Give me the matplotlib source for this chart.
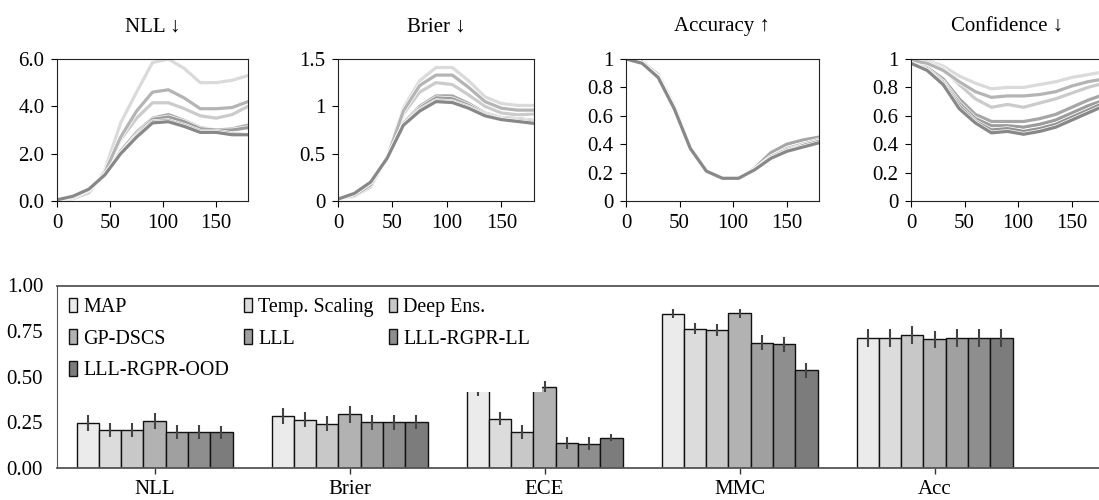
import matplotlib
matplotlib.use('Agg')
import matplotlib.pyplot as plt
import matplotlib.patheffects as pe
import numpy as np

plt.rcParams['font.family'] = ['Liberation Serif', 'DejaVu Serif']

# ---------------- data ----------------
methods = ['MAP', 'Temp. Scaling', 'Deep Ens.', 'GP-DSCS', 'LLL', 'LLL-RGPR-LL', 'LLL-RGPR-OOD']
angles = [0, 15, 30, 45, 60, 75, 90, 105, 120, 135, 150, 165, 180]

nll_curves = [
    [0.05, 0.10, 0.35, 1.30, 3.30, 4.60, 5.85, 6.00, 5.60, 5.00, 5.00, 5.10, 5.30],  # MAP
    [0.05, 0.10, 0.35, 1.20, 2.60, 3.50, 4.15, 4.15, 3.90, 3.60, 3.50, 3.65, 4.00],  # Temp
    [0.05, 0.20, 0.50, 1.10, 2.10, 2.90, 3.50, 3.65, 3.40, 3.10, 3.00, 3.05, 3.20],  # DE
    [0.05, 0.15, 0.45, 1.20, 2.70, 3.80, 4.60, 4.70, 4.35, 3.90, 3.90, 3.95, 4.20],  # GP
    [0.05, 0.20, 0.50, 1.10, 2.00, 2.80, 3.45, 3.55, 3.35, 3.05, 3.00, 3.00, 3.10],  # LLL
    [0.05, 0.20, 0.50, 1.10, 2.00, 2.75, 3.35, 3.40, 3.20, 2.95, 2.95, 2.85, 2.80],  # LL
    [0.05, 0.20, 0.50, 1.10, 2.00, 2.70, 3.30, 3.35, 3.15, 2.90, 2.90, 2.80, 2.80],  # OOD
]
brier_curves = [
    [0.02, 0.05, 0.15, 0.45, 0.98, 1.27, 1.41, 1.41, 1.27, 1.10, 1.03, 1.01, 1.01],
    [0.02, 0.05, 0.15, 0.45, 0.92, 1.15, 1.25, 1.23, 1.12, 1.00, 0.93, 0.91, 0.92],
    [0.02, 0.08, 0.20, 0.45, 0.82, 1.00, 1.11, 1.11, 1.03, 0.93, 0.88, 0.87, 0.85],
    [0.02, 0.06, 0.17, 0.45, 0.95, 1.22, 1.33, 1.33, 1.20, 1.05, 0.98, 0.96, 0.96],
    [0.02, 0.08, 0.20, 0.45, 0.80, 0.98, 1.09, 1.08, 1.01, 0.92, 0.87, 0.86, 0.84],
    [0.02, 0.08, 0.20, 0.45, 0.80, 0.96, 1.06, 1.05, 0.99, 0.91, 0.86, 0.85, 0.83],
    [0.02, 0.08, 0.20, 0.45, 0.80, 0.95, 1.05, 1.04, 0.98, 0.90, 0.86, 0.84, 0.82],
]
acc_curves = [
    [1.00, 0.97, 0.88, 0.67, 0.37, 0.21, 0.16, 0.16, 0.23, 0.33, 0.39, 0.42, 0.44],
    [1.00, 0.97, 0.88, 0.66, 0.37, 0.21, 0.16, 0.16, 0.23, 0.32, 0.38, 0.41, 0.43],
    [1.00, 0.98, 0.89, 0.67, 0.37, 0.21, 0.16, 0.16, 0.23, 0.34, 0.40, 0.43, 0.45],
    [1.00, 0.97, 0.88, 0.66, 0.37, 0.21, 0.16, 0.16, 0.22, 0.31, 0.37, 0.40, 0.43],
    [1.00, 0.97, 0.87, 0.65, 0.37, 0.21, 0.16, 0.16, 0.22, 0.31, 0.36, 0.39, 0.42],
    [1.00, 0.97, 0.87, 0.65, 0.37, 0.21, 0.16, 0.16, 0.22, 0.30, 0.35, 0.39, 0.42],
    [1.00, 0.97, 0.87, 0.65, 0.37, 0.21, 0.16, 0.16, 0.22, 0.30, 0.35, 0.38, 0.41],
]
conf_curves = [
    [1.00, 0.99, 0.95, 0.88, 0.83, 0.79, 0.80, 0.80, 0.82, 0.84, 0.87, 0.89, 0.91],
    [0.99, 0.98, 0.93, 0.82, 0.72, 0.66, 0.68, 0.66, 0.69, 0.72, 0.76, 0.80, 0.83],
    [0.98, 0.94, 0.86, 0.72, 0.61, 0.56, 0.56, 0.56, 0.58, 0.61, 0.66, 0.71, 0.75],
    [0.99, 0.97, 0.92, 0.84, 0.77, 0.73, 0.74, 0.74, 0.75, 0.77, 0.81, 0.84, 0.86],
    [0.97, 0.93, 0.84, 0.69, 0.58, 0.53, 0.53, 0.52, 0.54, 0.57, 0.62, 0.67, 0.71],
    [0.97, 0.92, 0.83, 0.67, 0.56, 0.50, 0.51, 0.49, 0.51, 0.54, 0.59, 0.64, 0.69],
    [0.97, 0.92, 0.82, 0.65, 0.55, 0.48, 0.49, 0.47, 0.49, 0.52, 0.57, 0.62, 0.67],
]

top_titles = ['NLL \u2193', 'Brier \u2193', 'Accuracy \u2191', 'Confidence \u2193']
top_yticks = [[0, 2, 4, 6], [0, 0.5, 1, 1.5], [0, 0.2, 0.4, 0.6, 0.8, 1], [0, 0.2, 0.4, 0.6, 0.8, 1]]
top_yticklabels = [['0.0', '2.0', '4.0', '6.0'], ['0', '0.5', '1', '1.5'],
                   ['0', '0.2', '0.4', '0.6', '0.8', '1'], ['0', '0.2', '0.4', '0.6', '0.8', '1']]
top_xticks = [0, 50, 100, 150]

bar_metrics = ['NLL', 'Brier', 'ECE', 'MMC', 'Acc']
# values per method across metrics
bar_values = [
    [0.248, 0.285, 0.440, 0.846, 0.712],  # MAP
    [0.208, 0.265, 0.270, 0.763, 0.712],  # Temp
    [0.208, 0.243, 0.197, 0.758, 0.731],  # DE
    [0.259, 0.294, 0.444, 0.847, 0.705],  # GP
    [0.195, 0.250, 0.137, 0.687, 0.712],  # LLL
    [0.195, 0.250, 0.133, 0.678, 0.712],  # LL
    [0.195, 0.250, 0.166, 0.535, 0.712],  # OOD
]
bar_errors = [
    [0.045, 0.046, 0.045, 0.025, 0.049],
    [0.040, 0.040, 0.036, 0.030, 0.049],
    [0.040, 0.040, 0.040, 0.032, 0.049],
    [0.045, 0.045, 0.030, 0.023, 0.047],
    [0.038, 0.040, 0.034, 0.040, 0.049],
    [0.038, 0.040, 0.035, 0.040, 0.049],
    [0.035, 0.038, 0.018, 0.041, 0.049],
]
bar_yticks = [0, 0.25, 0.5, 0.75, 1.0]
bar_yticklabels = ['0.00', '0.25', '0.50', '0.75', '1.00']

# ---------------- style ----------------
bar_colors = ['#ebebeb', '#dcdcdc', '#c8c8c8', '#b2b2b2', '#a0a0a0', '#8e8e8e', '#7c7c7c']
line_colors = ['#dadada', '#cbcbcb', '#a6a6a6', '#b4b4b4', '#9c9c9c', '#929292', '#888888']

W, H = 1099, 500
fig = plt.figure(figsize=(W / 100, H / 100), dpi=100)


def px_axes(l, r, t, b):
    return fig.add_axes([l / W, 1 - b / H, (r - l) / W, (b - t) / H])


FS = 15
top_boxes = [(57, 248), (338, 534), (626, 819), (911, 1104)]
all_curves = [nll_curves, brier_curves, acc_curves, conf_curves]
for i, (l, r) in enumerate(top_boxes):
    ax = px_axes(l, r, 59, 201)
    for m in range(len(methods)):
        ax.plot(angles, all_curves[i][m], color=line_colors[m], lw=2.3,
                solid_joinstyle='round',
                path_effects=[pe.Stroke(linewidth=3.3, foreground='white'), pe.Normal()])
    ax.set_xlim(0, 180)
    ax.set_ylim(top_yticks[i][0], top_yticks[i][-1])
    ax.set_xticks(top_xticks)
    ax.set_xticklabels([str(t) for t in top_xticks])
    ax.set_yticks(top_yticks[i])
    ax.set_yticklabels(top_yticklabels[i])
    ax.tick_params(direction='out', length=4, width=0.8, labelsize=FS, pad=5)
    for s in ax.spines.values():
        s.set_linewidth(0.8)
        s.set_color('#222222')
    ax.set_title(top_titles[i], fontsize=FS, pad=20)

# bar chart
BL, BR = 57, 1105
bax = px_axes(BL, BR, 285.5, 468)
n = len(methods)
bw = 0.8 / n
x = np.arange(len(bar_metrics))
containers = []
for m in range(n):
    offs = (m - (n - 1) / 2) * bw
    c = bax.bar(x + offs, bar_values[m], width=bw, color=bar_colors[m], edgecolor='#111111',
                linewidth=1.0, label=methods[m], yerr=bar_errors[m],
                error_kw=dict(ecolor='#444444', elinewidth=1.5, capsize=0))
    containers.append(c)
unit = 195.0
bax.set_xlim(-0.5, (BR - BL) / unit - 0.5)
bax.set_ylim(0, 1)
bax.set_xticks(x)
bax.set_xticklabels(bar_metrics)
bax.set_yticks(bar_yticks)
bax.set_yticklabels(bar_yticklabels)
bax.tick_params(axis='x', direction='out', length=4, width=1.0, labelsize=FS, pad=5, color='#333333')
bax.tick_params(axis='y', direction='out', length=0, labelsize=FS, pad=10)
bax.spines['right'].set_visible(False)
for s in ['top', 'bottom']:
    bax.spines[s].set_color('#555555')
    bax.spines[s].set_linewidth(1.3)
    bax.spines[s].set_zorder(6)
bax.spines['left'].set_color('#555555')
bax.spines['left'].set_linewidth(0.8)
bax.spines['left'].set_zorder(6)

# legend filled row by row (3 columns)
ncol = 3
nrow = int(np.ceil(n / ncol))
order = [r * ncol + c for c in range(ncol) for r in range(nrow) if r * ncol + c < n]
leg_w = (542 - BL) / (BR - BL)
leg = bax.legend([containers[k] for k in order], [methods[k] for k in order],
                 loc='upper left', bbox_to_anchor=(0, 0, leg_w, 1), mode='expand',
                 borderaxespad=0, ncol=ncol,
                 fontsize=14.4, handlelength=0.4, handleheight=0.75, handletextpad=0.3,
                 columnspacing=0.8, labelspacing=0.62, borderpad=0.6,
                 frameon=True, fancybox=False, framealpha=1, facecolor='white', edgecolor='none')
for h in leg.legend_handles:
    h.set_edgecolor('#111111')
    h.set_linewidth(1.0)

fig.savefig('out.png', dpi=100)
